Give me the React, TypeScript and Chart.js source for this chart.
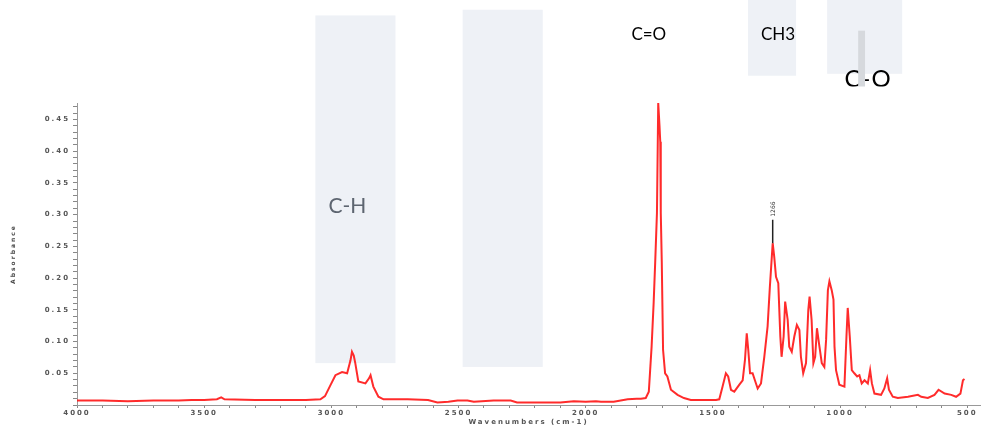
import { useEffect, useRef } from "react";
import { Chart, registerables } from "chart.js";

Chart.register(...registerables);

// ---- spectrum data (wavenumber cm-1, absorbance) ----
const wavenumbers = [
  4000, 3900, 3800, 3700, 3600, 3550, 3500, 3450, 3433, 3420, 3300, 3200, 3100, 3043, 3025, 3004,
  2984, 2958, 2938, 2925, 2919, 2912, 2906, 2894, 2866, 2852, 2846, 2835, 2815, 2795, 2700, 2620,
  2583, 2540, 2504, 2465, 2440, 2362, 2295, 2270, 2100, 2047, 2000, 1960, 1940, 1890, 1835, 1800,
  1783, 1764, 1752, 1741, 1733, 1727, 1720, 1715, 1710, 1707, 1705, 1701, 1696, 1688, 1679, 1665,
  1639, 1614, 1587, 1488, 1475, 1462, 1449, 1440, 1429, 1416, 1396, 1383, 1374, 1367, 1361, 1354,
  1344, 1335, 1324, 1311, 1298, 1285, 1276, 1265, 1259, 1252, 1243, 1235, 1230, 1222, 1216, 1206,
  1200, 1190, 1180, 1170, 1160, 1154, 1145, 1134, 1125, 1120, 1112, 1105, 1098, 1091, 1083, 1072,
  1062, 1055, 1048, 1042, 1033, 1026, 1022, 1016, 1003, 983, 975, 970, 962, 954, 944, 933,
  924, 915, 904, 891, 882, 875, 865, 839, 826, 815, 808, 793, 773, 733, 694, 681,
  655, 629, 613, 589, 563, 544, 527, 517, 511,
];
const absorbance = [
  0.007, 0.007, 0.006, 0.007, 0.007, 0.008, 0.008, 0.009, 0.012, 0.009, 0.008, 0.008, 0.008, 0.009, 0.014, 0.031,
  0.047, 0.052, 0.05, 0.07, 0.084, 0.078, 0.066, 0.037, 0.034, 0.042, 0.047, 0.029, 0.013, 0.009, 0.009, 0.008,
  0.004, 0.005, 0.007, 0.007, 0.005, 0.007, 0.007, 0.004, 0.004, 0.006, 0.005, 0.006, 0.005, 0.005, 0.009, 0.01,
  0.01, 0.011, 0.021, 0.092, 0.161, 0.224, 0.303, 0.476, 0.44, 0.415, 0.303, 0.224, 0.087, 0.05, 0.045, 0.024,
  0.016, 0.011, 0.008, 0.008, 0.009, 0.029, 0.05, 0.045, 0.024, 0.021, 0.032, 0.039, 0.071, 0.113, 0.087, 0.05,
  0.05, 0.039, 0.026, 0.034, 0.076, 0.124, 0.187, 0.255, 0.234, 0.202, 0.192, 0.108, 0.076, 0.108, 0.163, 0.134,
  0.092, 0.084, 0.108, 0.126, 0.118, 0.076, 0.05, 0.066, 0.15, 0.171, 0.134, 0.066, 0.076, 0.121, 0.097, 0.066,
  0.06, 0.103, 0.181, 0.195, 0.181, 0.166, 0.092, 0.055, 0.032, 0.029, 0.108, 0.153, 0.108, 0.055, 0.05, 0.045,
  0.047, 0.034, 0.039, 0.034, 0.055, 0.034, 0.018, 0.016, 0.026, 0.042, 0.024, 0.013, 0.011, 0.013, 0.016, 0.013,
  0.011, 0.016, 0.024, 0.018, 0.016, 0.013, 0.018, 0.039, 0.041,
];

// ---- axis ----
const xRange = [450, 4000];
const yRange = [0, 0.476];
const xLabelStep = 500;
const yLabelStep = 0.05;

// ---- band annotations (data units: wavenumber from/to, absorbance bottom/top) ----
const bandBoxFrom = [3063, 2484, 1362, 1051];
const bandBoxTo = [2748, 2169, 1173, 756];
const bandBoxBottom = [0.066, 0.06, 0.519, 0.522];
const bandBoxTop = [0.614, 0.623, 0.645, 0.645];

const bandLabels = ["C-H", "C=O", "CH3", "C-O"];
const bandLabelX = [2937, 1752, 1244, 890];
const bandLabelY = [0.314, 0.584, 0.584, 0.514];

const peakMarkerWn = 1265;
const peakMarkerTop = 0.292;
const peakMarkerText = "1266";

const markBarFrom = 929;
const markBarTo = 902;
const markBarTop = 0.59;
const markBarBottom = 0.502;

export default function App() {
  const ref = useRef<HTMLCanvasElement | null>(null);

  useEffect(() => {
    if (!ref.current) return;
    const data = wavenumbers.map((w, i) => ({ x: w, y: absorbance[i] }));

    const overlay = {
      id: "overlay",
      beforeDraw(chart: any) {
        chart.ctx.letterSpacing = "2px";
      },
      beforeDatasetsDraw(chart: any) {
        const ctx = chart.ctx;
        ctx.letterSpacing = "0px";
        const xs = chart.scales.x;
        const ys = chart.scales.y;
        ctx.save();
        ctx.fillStyle = "#eef1f6";
        for (let i = 0; i < bandBoxFrom.length; i++) {
          const a = xs.getPixelForValue(bandBoxFrom[i]);
          const b = xs.getPixelForValue(bandBoxTo[i]);
          const t = ys.getPixelForValue(bandBoxTop[i]);
          const bt = ys.getPixelForValue(bandBoxBottom[i]);
          ctx.fillRect(Math.min(a, b), t, Math.abs(b - a), bt - t);
        }
        ctx.restore();
      },
      afterDatasetsDraw(chart: any) {
        const ctx = chart.ctx;
        const xs = chart.scales.x;
        const ys = chart.scales.y;
        ctx.save();
        ctx.letterSpacing = "0px";
        ctx.textAlign = "center";
        ctx.textBaseline = "middle";
        const sizes = [21, 17, 17, 24];
        const colors = ["#5d6570", "#000000", "#000000", "#000000"];
        const clipBottom = ys.getPixelForValue(markBarBottom);
        for (let i = 0; i < bandLabels.length; i++) {
          ctx.save();
          ctx.font = `${sizes[i]}px Lato, "Open Sans", sans-serif`;
          ctx.fillStyle = colors[i];
          if (bandLabels[i] === "C-O") {
            ctx.beginPath();
            ctx.rect(0, 0, chart.width, clipBottom);
            ctx.clip();
            ctx.letterSpacing = "1px";
          }
          ctx.fillText(bandLabels[i], xs.getPixelForValue(bandLabelX[i]), ys.getPixelForValue(bandLabelY[i]));
          ctx.restore();
        }
        // grey marker bar
        const ba = xs.getPixelForValue(markBarFrom);
        const bb = xs.getPixelForValue(markBarTo);
        const bt = ys.getPixelForValue(markBarTop);
        ctx.fillStyle = "#d6d9dd";
        ctx.fillRect(Math.min(ba, bb), bt, Math.abs(bb - ba), clipBottom - bt);
        // peak marker
        const idx = wavenumbers.indexOf(peakMarkerWn);
        const px = xs.getPixelForValue(peakMarkerWn);
        const py0 = ys.getPixelForValue(absorbance[idx]);
        const py1 = ys.getPixelForValue(peakMarkerTop);
        ctx.strokeStyle = "#222";
        ctx.lineWidth = 1.5;
        ctx.beginPath();
        ctx.moveTo(px, py0);
        ctx.lineTo(px, py1);
        ctx.stroke();
        ctx.translate(px + 1, py1 - 3);
        ctx.rotate(-Math.PI / 2);
        ctx.font = "6px 'DejaVu Sans'";
        ctx.fillStyle = "#333";
        ctx.textAlign = "left";
        ctx.fillText(peakMarkerText, 0, 0);
        ctx.restore();
      },
    };

    const chart = new Chart(ref.current, {
      type: "line",
      data: {
        datasets: [
          {
            data,
            borderColor: "rgba(255,20,20,0.9)",
            borderWidth: 2,
            pointRadius: 0,
            tension: 0,
            fill: false,
          },
        ],
      },
      options: {
        animation: false,
        responsive: false,
        devicePixelRatio: 1,
        parsing: false as any,
        layout: { padding: { left: 0, top: 103, right: 5, bottom: 0 } },
        plugins: { legend: { display: false }, tooltip: { enabled: false } },
        scales: {
          x: {
            type: "linear",
            reverse: true,
            min: xRange[0],
            max: xRange[1],
            afterFit: (s: any) => {
              s.height = 22;
            },
            afterBuildTicks: (s: any) => {
              const t: any[] = [];
              for (let v = xRange[1]; v >= 500; v -= 100) t.push({ value: v });
              s.ticks = t;
            },
            ticks: {
              autoSkip: false,
              maxRotation: 0,
              padding: 1,
              color: "#555",
              font: { size: 7, family: "'DejaVu Sans'", weight: "bold" },
              callback: (v: any) => (Number(v) % xLabelStep === 0 ? String(v) : ""),
            },
            grid: { drawOnChartArea: false, tickLength: 3, color: "#888" },
            border: { color: "#999", width: 1 },
            title: {
              display: true,
              text: "Wavenumbers (cm-1)",
              color: "#555",
              padding: { top: 0, bottom: 1 },
              font: { size: 7, family: "'DejaVu Sans'", weight: "bold" },
            },
          },
          y: {
            type: "linear",
            min: yRange[0],
            max: yRange[1],
            afterFit: (s: any) => {
              s.width = 77;
            },
            afterBuildTicks: (s: any) => {
              const t: any[] = [];
              for (let i = 0; i <= 47; i++) t.push({ value: i / 100 });
              s.ticks = t;
            },
            ticks: {
              autoSkip: false,
              padding: 3,
              color: "#555",
              font: { size: 7, family: "'DejaVu Sans'", weight: "bold" },
              callback: (v: any) => {
                const n = Number(v);
                const k = Math.round(n / yLabelStep);
                return n > 0 && Math.abs(n - k * yLabelStep) < 1e-6 ? n.toFixed(2) : "";
              },
            },
            grid: { drawOnChartArea: false, tickLength: 4, color: "#888" },
            border: { color: "#999", width: 1 },
            title: {
              display: true,
              text: "Absorbance",
              color: "#444",
              padding: { top: 10, bottom: 0 },
              font: { size: 6, family: "'DejaVu Sans'", weight: "bold" },
            },
          },
        },
      },
      plugins: [overlay],
    });
    return () => chart.destroy();
  }, []);

  return (
    <div style={{ position: "fixed", left: 0, top: 0, width: 985, height: 427, background: "#fff" }}>
      <canvas ref={ref} width={985} height={427} style={{ display: "block", width: 985, height: 427 }} />
    </div>
  );
}
